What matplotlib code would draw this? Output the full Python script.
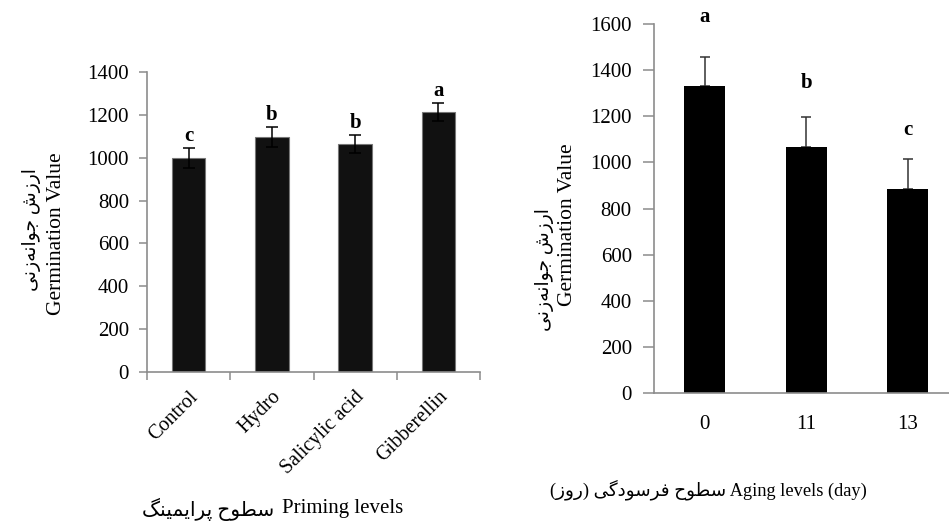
import matplotlib
matplotlib.use("Agg")
import matplotlib.pyplot as plt

# ---------------- data ----------------
priming_levels = ["Control", "Hydro", "Salicylic acid", "Gibberellin"]
priming_values = [1000, 1098, 1065, 1214]
priming_err = [46, 46, 43, 43]
priming_letters = ["c", "b", "b", "a"]

aging_levels = ["0", "11", "13"]
aging_values = [1331, 1067, 885]
aging_err = [127, 130, 130]
aging_letters = ["a", "b", "c"]
aging_letter_y = [1630, 1344, 1140]

left_yticks = [0, 200, 400, 600, 800, 1000, 1200, 1400]
right_yticks = [0, 200, 400, 600, 800, 1000, 1200, 1400, 1600]

# --------- Persian text (pre-shaped presentation forms, visual order) ---------
def visual(glyphs):
    mirror = {"(": ")", ")": "("}
    return "".join(mirror.get(g, g) for g in reversed(glyphs))

fa_gv = visual(["\uFE8D", "\uFEAD", "\uFEAF", "\uFEB5", " ",
                "\uFE9F", "\uFEEE", "\uFE8D", "\uFEE7", "\uFEEA",
                "\uFEAF", "\uFEE7", "\uFEF0"])            # ارزش جوانه‌زنی
fa_priming = visual(["\uFEB3", "\uFEC4", "\uFEEE", "\uFEA1", " ",
                     "\uFB58", "\uFEAE", "\uFE8D", "\uFEF3", "\uFEE4",
                     "\uFEF4", "\uFEE8", "\uFB93"])       # سطوح پرایمینگ
fa_aging = visual(["\uFEB3", "\uFEC4", "\uFEEE", "\uFEA1", " ",
                   "\uFED3", "\uFEAE", "\uFEB3", "\uFEEE", "\uFEA9",
                   "\uFB94", "\uFEF0", " ", "(", "\uFEAD", "\uFEED",
                   "\uFEAF", ")"])                        # سطوح فرسودگی (روز)

SERIF = ["Liberation Serif", "DejaVu Sans"]
plt.rcParams["font.family"] = SERIF

W, H = 949, 525
fig = plt.figure(figsize=(W / 100, H / 100), dpi=100)

def px_axes(l, t, r, b):
    return fig.add_axes([l / W, 1 - b / H, (r - l) / W, (b - t) / H])

GREY = "#8c8c8c"
TICK_FS = 15

def style(ax, ticklen):
    for s in ["top", "right"]:
        ax.spines[s].set_visible(False)
    for s in ["left", "bottom"]:
        ax.spines[s].set_color(GREY)
        ax.spines[s].set_linewidth(1.2)
    ax.tick_params(axis="both", colors=GREY, labelcolor="black",
                   direction="out", length=ticklen, width=1.1,
                   labelsize=TICK_FS, pad=7)

# ---------------- left chart ----------------
ax1 = px_axes(147, 72, 480, 372)
x1 = list(range(len(priming_levels)))
ax1.bar(x1, priming_values, width=0.4, color="#111111",
        edgecolor="#777777", linewidth=0.8, zorder=2)
ax1.errorbar(x1, priming_values, yerr=priming_err, fmt="none",
             ecolor="black", elinewidth=1.1, capsize=4, capthick=1.1, zorder=3)
for xi, v, e, lab in zip(x1, priming_values, priming_err, priming_letters):
    ax1.text(xi, v + e + 55, lab, ha="center", va="center",
             fontsize=15, fontweight="bold")
ax1.set_xlim(-0.5, len(priming_levels) - 0.5)
ax1.set_ylim(0, 1400)
ax1.set_yticks(left_yticks)
ax1.set_xticks([i - 0.5 for i in range(len(priming_levels) + 1)])
ax1.set_xticklabels([])
style(ax1, 6)
ax1.set_xticks(x1, minor=True)
ax1.set_xticklabels(priming_levels, minor=True, rotation=45, ha="right",
                    rotation_mode="anchor", fontsize=14.5)
ax1.tick_params(axis="x", which="minor", length=0, pad=11)

# ---------------- right chart ----------------
ax2 = px_axes(654, 24, 949, 393)
x2 = list(range(len(aging_levels)))
ax2.bar(x2, aging_values, width=0.4, color="black", zorder=2)
ax2.errorbar(x2, aging_values, yerr=[[0] * len(aging_err), aging_err],
             fmt="none", ecolor="#333333", elinewidth=1.1, capsize=3.5,
             capthick=1.1, zorder=1)
for xi, lab, ly in zip(x2, aging_letters, aging_letter_y):
    ax2.text(xi, ly, lab, ha="center", va="center",
             fontsize=15, fontweight="bold", clip_on=False)
ax2.set_xlim(-0.5, -0.5 + (949 - 654) / 101.5)
ax2.set_ylim(0, 1600)
ax2.set_yticks(right_yticks)
ax2.set_xticks(x2)
ax2.set_xticklabels(aging_levels)
style(ax2, 8)
ax2.tick_params(axis="y", pad=8)
ax2.tick_params(axis="x", length=0, pad=16)

# ---------------- axis labels ----------------
fig.text(57 / W, 1 - 234 / H, "Germination Value", rotation=90,
         ha="center", va="center", fontsize=15.5)
fig.text(32 / W, 1 - 230 / H, fa_gv, rotation=90, ha="center", va="center",
         fontsize=13.5, family=SERIF)
fig.text(567 / W, 1 - 225 / H, "Germination Value", rotation=90,
         ha="center", va="center", fontsize=15.5)
fig.text(545 / W, 1 - 270 / H, fa_gv, rotation=90, ha="center", va="center",
         fontsize=13.5, family=SERIF)

fig.text(142 / W, 1 - 509 / H, fa_priming, ha="left", va="center",
         fontsize=14.5, family=SERIF)
fig.text(282 / W, 1 - 509 / H, "Priming levels", ha="left", va="center",
         fontsize=15)
fig.text(550 / W, 1 - 490 / H, fa_aging + " Aging levels (day)",
         ha="left", va="center", fontsize=13.2, family=SERIF)

fig.savefig("out.png", dpi=100)
